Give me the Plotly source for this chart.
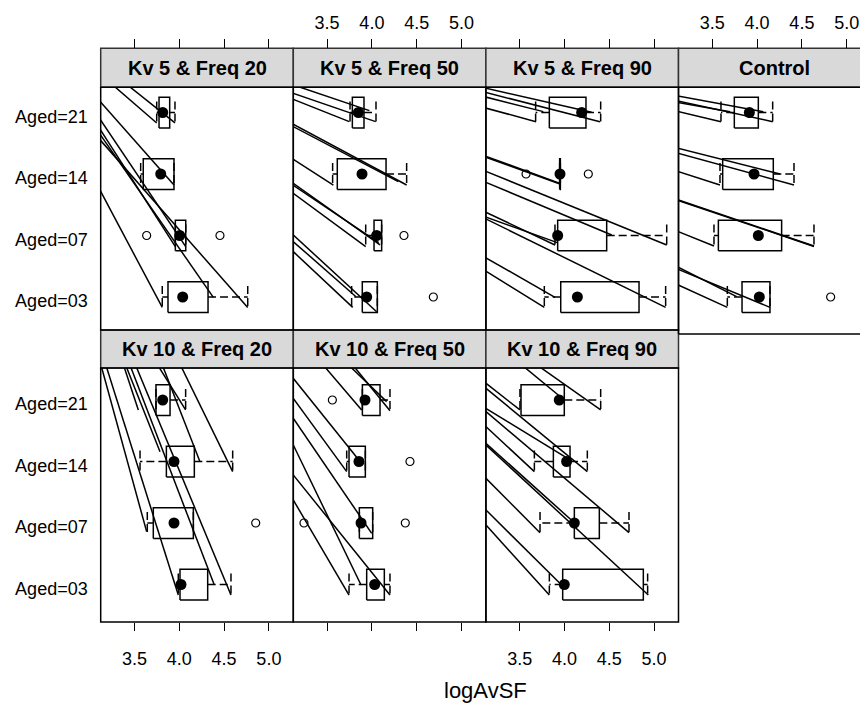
import plotly.graph_objects as go

# ---------------------------------------------------------------- data
ages = ["Aged=03", "Aged=07", "Aged=14", "Aged=21"]          # levels 1..4 (bottom -> top)
panel_titles = ["Kv 5 & Freq 20", "Kv 5 & Freq 50", "Kv 5 & Freq 90", "Control",
                "Kv 10 & Freq 20", "Kv 10 & Freq 50", "Kv 10 & Freq 90"]
x_ticks = [3.5, 4.0, 4.5, 5.0]
x_tick_text = ["3.5", "4.0", "4.5", "5.0"]

# box statistics per panel, ordered as ages
q1 = {
    "Kv 5 & Freq 20":  [3.874, 3.956, 3.598, 3.774],
    "Kv 5 & Freq 50":  [3.893, 4.024, 3.614, 3.782],
    "Kv 5 & Freq 90":  [3.958, 3.924, 3.946, 3.831],
    "Control":         [3.832, 3.568, 3.616, 3.746],
    "Kv 10 & Freq 20": [4.008, 3.710, 3.856, 3.740],
    "Kv 10 & Freq 50": [3.942, 3.860, 3.745, 3.894],
    "Kv 10 & Freq 90": [3.980, 4.110, 3.876, 3.515],
}
median = {
    "Kv 5 & Freq 20":  [4.038, 4.005, 3.793, 3.815],
    "Kv 5 & Freq 50":  [3.942, 4.053, 3.890, 3.849],
    "Kv 5 & Freq 90":  [4.144, 3.924, 3.950, 4.192],
    "Control":         [4.025, 4.014, 3.966, 3.914],
    "Kv 10 & Freq 20": [4.019, 3.941, 3.941, 3.815],
    "Kv 10 & Freq 50": [4.031, 3.879, 3.856, 3.923],
    "Kv 10 & Freq 90": [3.998, 4.110, 4.024, 3.942],
}
q3 = {
    "Kv 5 & Freq 20":  [4.321, 4.072, 3.941, 3.893],
    "Kv 5 & Freq 50":  [4.061, 4.109, 4.158, 3.912],
    "Kv 5 & Freq 90":  [4.832, 4.471, 3.954, 4.240],
    "Control":         [4.144, 4.274, 4.181, 4.014],
    "Kv 10 & Freq 20": [4.317, 4.157, 4.168, 3.897],
    "Kv 10 & Freq 50": [4.139, 4.009, 3.927, 4.091],
    "Kv 10 & Freq 90": [4.880, 4.389, 4.062, 3.998],
}
whisker_lo = {
    "Kv 5 & Freq 20":  [3.810, 3.956, 3.569, 3.748],
    "Kv 5 & Freq 50":  [3.774, 3.931, 3.562, 3.756],
    "Kv 5 & Freq 90":  [3.775, 3.894, 3.946, 3.678],
    "Control":         [3.668, 3.519, 3.586, 3.597],
    "Kv 10 & Freq 20": [3.989, 3.643, 3.562, 3.740],
    "Kv 10 & Freq 50": [3.745, 3.860, 3.719, 3.894],
    "Kv 10 & Freq 90": [3.831, 3.727, 3.664, 3.503],
}
whisker_hi = {
    "Kv 5 & Freq 20":  [4.764, 4.072, 3.941, 3.952],
    "Kv 5 & Freq 50":  [4.061, 4.109, 4.388, 4.046],
    "Kv 5 & Freq 90":  [5.129, 5.141, 3.954, 4.404],
    "Control":         [4.144, 4.635, 4.412, 4.174],
    "Kv 10 & Freq 20": [4.577, 4.157, 4.596, 4.071],
    "Kv 10 & Freq 50": [4.202, 4.009, 3.927, 4.202],
    "Kv 10 & Freq 90": [4.928, 4.720, 4.255, 4.404],
}
# outlying values: (age index, value)
outliers = {
    "Kv 5 & Freq 20":  [(1, 3.636), (1, 4.454)],
    "Kv 5 & Freq 50":  [(0, 4.686), (1, 4.358)],
    "Kv 5 & Freq 90":  [(2, 3.571), (2, 4.266)],
    "Control":         [(0, 4.821)],
    "Kv 10 & Freq 20": [(1, 4.853)],
    "Kv 10 & Freq 50": [(1, 3.242), (1, 4.373), (2, 4.425), (3, 3.559)],
    "Kv 10 & Freq 90": [],
}
# stray umbrella segments: (x_from, y_from, x_to, y_to) in data units
stray_segments = {
    "Kv 5 & Freq 20": [
        (3.301, 4.393, 3.748, 3.83), (3.469, 4.393, 3.952, 3.83),
        (3.134, 4.149, 3.941, 2.82), (3.134, 3.851, 4.072, 1.82),
        (3.134, 3.688, 3.956, 1.82), (3.134, 3.607, 4.380, 0.995),
        (3.134, 3.526, 4.764, 0.83), (3.134, 2.686, 3.810, 0.83)],
    "Kv 5 & Freq 50": [
        (3.235, 4.393, 3.972, 4.030), (3.123, 4.312, 4.042, 3.851),
        (3.123, 4.214, 3.748, 3.851), (3.123, 3.808, 4.388, 2.821),
        (3.123, 3.770, 4.295, 2.875), (3.123, 3.238, 3.570, 2.821),
        (3.123, 2.848, 4.091, 1.846), (3.123, 2.816, 4.076, 1.884),
        (3.123, 2.686, 3.931, 1.819), (3.123, 2.008, 4.053, 0.761),
        (3.123, 1.900, 3.823, 1.005), (3.123, 1.737, 3.786, 0.832)],
    "Kv 5 & Freq 90": [
        (3.132, 4.393, 4.303, 4.003), (3.132, 4.322, 4.396, 3.851),
        (3.132, 4.247, 3.764, 4.014), (3.132, 4.068, 3.682, 3.851),
        (3.132, 3.282, 3.950, 2.848), (3.132, 3.266, 3.950, 2.837),
        (3.132, 3.038, 5.141, 1.846), (3.132, 2.859, 4.527, 2.008),
        (3.132, 2.371, 3.894, 1.846), (3.132, 2.295, 3.920, 1.884),
        (3.132, 2.263, 5.129, 0.832), (3.132, 1.629, 3.894, 0.995),
        (3.132, 1.412, 3.775, 0.832)],
    "Control": [
        (3.121, 4.268, 4.070, 4.014), (3.121, 4.187, 4.174, 3.851),
        (3.121, 4.160, 3.698, 4.014), (3.121, 4.014, 3.597, 3.851),
        (3.121, 3.417, 4.256, 3.000), (3.121, 3.336, 4.412, 2.821),
        (3.121, 3.038, 3.586, 2.821), (3.121, 2.577, 4.635, 1.829),
        (3.121, 2.570, 4.635, 1.822), (3.121, 2.062, 3.519, 1.829),
        (3.121, 1.482, 3.772, 1.005), (3.121, 1.450, 4.144, 0.832),
        (3.121, 1.195, 3.668, 0.832)],
    "Kv 10 & Freq 20": [
        (3.134, 4.526, 3.636, 1.859), (3.190, 4.526, 3.989, 0.829),
        (3.387, 4.526, 3.543, 3.838), (3.413, 4.526, 3.785, 3.160),
        (3.461, 4.526, 4.391, 0.992), (3.524, 4.526, 4.577, 0.829),
        (3.777, 4.526, 4.071, 3.838), (3.822, 4.526, 4.231, 2.997),
        (4.027, 4.526, 4.596, 2.835)],
    "Kv 10 & Freq 50": [
        (3.495, 4.504, 3.886, 3.838), (3.786, 4.504, 4.165, 3.973),
        (3.823, 4.504, 4.202, 3.826), (3.123, 4.352, 3.830, 3.068),
        (3.123, 4.027, 3.719, 2.835), (3.123, 3.702, 3.998, 1.832),
        (3.123, 3.268, 3.879, 0.992), (3.123, 2.781, 4.202, 0.829),
        (3.123, 2.374, 3.745, 0.829)],
    "Kv 10 & Freq 90": [
        (3.578, 4.504, 3.998, 4.000), (3.757, 4.504, 4.404, 3.838),
        (3.124, 4.271, 3.503, 3.838), (3.124, 4.190, 4.255, 2.835),
        (3.124, 3.864, 4.062, 3.025), (3.124, 3.810, 4.720, 1.843),
        (3.124, 3.566, 3.664, 2.835), (3.124, 3.295, 4.110, 2.005),
        (3.124, 3.268, 4.936, 0.829), (3.124, 2.726, 3.727, 1.843),
        (3.124, 2.211, 3.968, 0.992), (3.124, 1.967, 3.831, 0.829)],
}

# ---------------------------------------------------------------- layout geometry (pixels)
W, H = 860, 705
FONT = "Liberation Sans, Arial, Helvetica, sans-serif"
TICK_SIZE = 18
col_left = [100.7, 293.3, 485.9, 678.5]
panel_w = 192.6
px_per_x = 89.6            # pixels per logAvSF unit
px_per_level = 61.5        # pixels per category step
x_lo = 3.123
rows = {
    # strip top, panel top, panel bottom, pixel row of the top level
    1: dict(strip_top=48.3, top=87.3, bottom=330.0, level4=112.5),
    2: dict(strip_top=330.0, top=368.0, bottom=622.0, level4=400.0),
}
BOX_HALF = 0.25
CAP_HALF = 0.18
LINE_W = 1.5
DASH = "8px,4px"

# panel index -> (row, column)
placement = [(1, 0), (1, 1), (1, 2), (1, 3), (2, 0), (2, 1), (2, 2)]

fig = go.Figure()
shapes, annotations = [], []


def py(v):
    return 1 - v / H


def px(v):
    return v / W


for i, name in enumerate(panel_titles):
    k = i + 1
    row, col = placement[i]
    g = rows[row]
    left = col_left[col]
    right = min(left + panel_w, W)
    bottom = g["bottom"] + (4.0 if name == "Control" else 0.0)
    xr = [x_lo, x_lo + (right - left) / px_per_x]
    yr = [1 - (bottom - (g["level4"] + 3 * px_per_level)) / px_per_level,
          4 + (g["level4"] - g["top"]) / px_per_level]
    suffix = "" if k == 1 else str(k)
    xa, ya = f"x{suffix}", f"y{suffix}"
    xkey, ykey = f"xaxis{suffix}", f"yaxis{suffix}"

    lv = [1, 2, 3, 4]
    a_q1, a_md, a_q3 = q1[name], median[name], q3[name]
    a_lo, a_hi = whisker_lo[name], whisker_hi[name]

    # boxes
    bx, by = [], []
    for j in range(4):
        y0, y1 = lv[j] - BOX_HALF, lv[j] + BOX_HALF
        bx += [a_q1[j], a_q3[j], a_q3[j], a_q1[j], a_q1[j], None]
        by += [y0, y0, y1, y1, y0, None]
    fig.add_trace(go.Scatter(x=bx, y=by, mode="lines", xaxis=xa, yaxis=ya,
                             line=dict(color="black", width=LINE_W), hoverinfo="skip"))

    # whiskers and caps (dashed)
    wx, wy = [], []
    for j in range(4):
        if a_lo[j] < a_q1[j]:
            wx += [a_q1[j], a_lo[j], None]
            wy += [lv[j], lv[j], None]
        if a_hi[j] > a_q3[j]:
            wx += [a_q3[j], a_hi[j], None]
            wy += [lv[j], lv[j], None]
        for w in (a_lo[j], a_hi[j]):
            wx += [w, w, None]
            wy += [lv[j] + CAP_HALF, lv[j] - CAP_HALF, None]
    fig.add_trace(go.Scatter(x=wx, y=wy, mode="lines", xaxis=xa, yaxis=ya,
                             line=dict(color="black", width=LINE_W, dash=DASH), hoverinfo="skip"))

    # stray segments
    sx, sy = [], []
    for (xs, ys, xe, ye) in stray_segments[name]:
        sx += [xe + 3 * (xs - xe), xe, None]
        sy += [ye + 3 * (ys - ye), ye, None]
    fig.add_trace(go.Scatter(x=sx, y=sy, mode="lines", xaxis=xa, yaxis=ya,
                             line=dict(color="black", width=LINE_W), hoverinfo="skip"))

    # medians
    fig.add_trace(go.Scatter(x=a_md, y=lv, mode="markers", xaxis=xa, yaxis=ya,
                             marker=dict(color="black", size=11, symbol="circle"),
                             hoverinfo="skip"))
    # outliers
    if outliers[name]:
        fig.add_trace(go.Scatter(x=[v for _, v in outliers[name]],
                                 y=[lv[j] for j, _ in outliers[name]],
                                 mode="markers", xaxis=xa, yaxis=ya,
                                 marker=dict(color="black", size=8, symbol="circle-open",
                                             line=dict(width=1.2, color="black")),
                                 hoverinfo="skip"))

    # axes
    xaxis = dict(domain=[px(left), px(right)], range=xr, showgrid=False, zeroline=False,
                 showline=False, tickvals=x_ticks, ticktext=x_tick_text,
                 ticks="outside", tickcolor="black", tickwidth=1,
                 tickfont=dict(family=FONT, size=TICK_SIZE, color="black"))
    if row == 1:
        xaxis.update(side="top", anchor="free", position=py(g["strip_top"]), ticklen=9,
                     ticklabelstandoff=3, showticklabels=(col in (1, 3)))
    else:
        xaxis.update(side="bottom", anchor=ya, ticklen=8, ticklabelstandoff=12,
                     showticklabels=(col in (0, 2)))
    yaxis = dict(domain=[py(bottom), py(g["top"])], range=yr, anchor=xa,
                 showgrid=False, zeroline=False, showline=False,
                 tickvals=lv, ticktext=ages, ticks="", showticklabels=(col == 0),
                 ticklabelstandoff=12, ticklabelshift=4,
                 tickfont=dict(family=FONT, size=TICK_SIZE, color="black"))
    fig.layout[xkey] = xaxis
    fig.layout[ykey] = yaxis

    # panel border
    if name == "Control":
        for (x0, y0, x1, y1) in [(0, 0, 0, 1), (0, 1, 1.2, 1), (0, 0, 1.2, 0)]:
            shapes.append(dict(type="line", xref=f"{xa} domain", yref=f"{ya} domain",
                               x0=x0, y0=y0, x1=x1, y1=y1,
                               line=dict(color="black", width=LINE_W)))
        strip_right = left + panel_w + 20
    else:
        shapes.append(dict(type="rect", xref=f"{xa} domain", yref=f"{ya} domain",
                           x0=0, y0=0, x1=1, y1=1,
                           line=dict(color="black", width=LINE_W)))
        strip_right = left + panel_w

    # strip
    shapes.append(dict(type="rect", xref="paper", yref="paper",
                       x0=px(left), x1=px(strip_right), y0=py(g["top"]), y1=py(g["strip_top"]),
                       fillcolor="#D9D9D9", line=dict(color="#333333", width=LINE_W),
                       layer="below"))
    annotations.append(dict(text=name, xref="paper", yref="paper",
                            x=px(left + panel_w / 2), y=py((g["top"] + g["strip_top"]) / 2),
                            showarrow=False, xanchor="center", yanchor="middle",
                            font=dict(family=FONT, size=20, color="black", weight="bold")))

annotations.append(dict(text="logAvSF", xref="paper", yref="paper",
                        x=px((col_left[0] + col_left[3] + panel_w) / 2),
                        y=py(690), showarrow=False, xanchor="center", yanchor="middle",
                        font=dict(family=FONT, size=22, color="black")))

fig.update_layout(width=W, height=H, margin=dict(l=0, r=0, t=0, b=0),
                  paper_bgcolor="white", plot_bgcolor="white", showlegend=False,
                  shapes=shapes, annotations=annotations)

fig.write_html("out.html")
